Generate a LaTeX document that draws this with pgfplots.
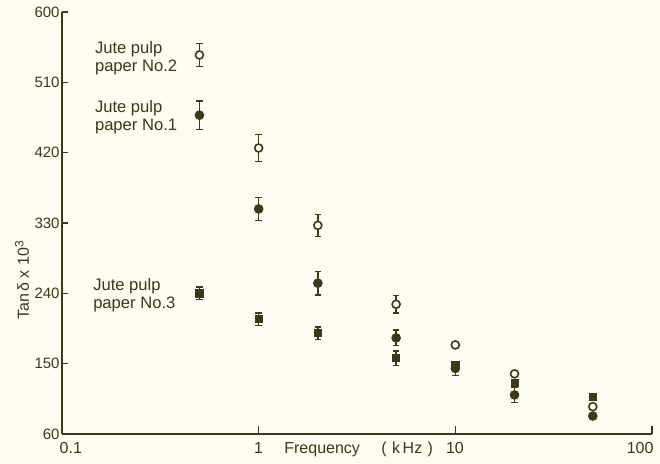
\documentclass[border=0pt]{standalone}
\usepackage{pgfplots}
\pgfplotsset{compat=1.18}
\usepackage{fontspec}
\setmainfont{Liberation Sans}
\definecolor{ink}{RGB}{62,55,26}
\definecolor{paper}{RGB}{254,252,242}
\begin{document}
\begin{tikzpicture}
\useasboundingbox[fill=paper] (-31pt,-14.5pt) rectangle (299pt,217pt);
\begin{axis}[at={(0,0)}, anchor=south west, scale only axis,
  width=295pt, height=211pt,
  xmode=log, xmin=0.1, xmax=100, ymin=60, ymax=600,
  axis x line=bottom, axis y line=left,
  axis line style={-, ink, line width=1pt},
  xtick=\empty, xminorticks=false,
  ytick={60,150,240,330,420,510,600},
  tick align=inside, major tick length=3pt,
  tick style={ink, line width=0.8pt},
  yticklabel style={font=\fontsize{7.5}{9}\selectfont, text=ink, inner sep=1pt},
  /pgf/number format/assume math mode=true,
  clip=false,
  error bars/error bar style={ink, line width=0.7pt},
  error bars/error mark options={ink, line width=0.7pt, mark size=1.6pt, rotate=90},
]
% Jute pulp paper No.2 (open circles)
\addplot[only marks, mark=*, mark size=2pt, ink, mark options={fill=paper, draw=ink, line width=0.8pt},
  error bars/.cd, y dir=both, y explicit]
  coordinates {(0.5,545) +- (0,15) (1,426) +- (0,17) (2,327) +- (0,14) (5,226) +- (0,11)};
\addplot[only marks, mark=*, mark size=2pt, mark options={fill=paper, draw=ink, line width=0.8pt}]
  coordinates {(10,174) (20,137) (50,95)};
% Jute pulp paper No.1 (filled circles)
\addplot[only marks, mark=*, mark size=2.2pt, ink, mark options={fill=ink, draw=ink},
  error bars/.cd, y dir=both, y explicit]
  coordinates {(0.5,468) +- (0,18) (1,348) +- (0,15) (2,253) +- (0,15) (5,183) +- (0,10) (10,144) +- (0,9) (20,110) +- (0,10)};
\addplot[only marks, mark=*, mark size=2.2pt, mark options={fill=ink, draw=ink}]
  coordinates {(50,83)};
% Jute pulp paper No.3 (filled squares)
\addplot[only marks, mark=square*, mark size=1.8pt, ink, mark options={fill=ink, draw=ink},
  error bars/.cd, y dir=both, y explicit]
  coordinates {(0.5,240) +- (0,8) (1,207) +- (0,8) (2,189) +- (0,8) (5,157) +- (0,9)};
\addplot[only marks, mark=square*, mark size=1.8pt, mark options={fill=ink, draw=ink}]
  coordinates {(10,148) (20,125) (50,107)};

% x ticks (pointing up)
\draw[ink, line width=0.8pt] (axis cs:1,60) -- ([yshift=4pt]axis cs:1,60);
\draw[ink, line width=0.8pt] (axis cs:10,60) -- ([yshift=4pt]axis cs:10,60);
\draw[ink, line width=0.8pt] (axis cs:100,60) -- ([yshift=4pt]axis cs:100,60);
% x tick labels
\node[text=ink, font=\fontsize{8}{9}\selectfont] at (rel axis cs:0.015,-0.033) {0.1};
\node[text=ink, font=\fontsize{8}{9}\selectfont] at (rel axis cs:0.333,-0.033) {1};
\node[text=ink, font=\fontsize{8}{9}\selectfont] at (rel axis cs:0.666,-0.033) {10};
\node[text=ink, font=\fontsize{8}{9}\selectfont] at (rel axis cs:0.980,-0.033) {100};
% axis labels
\node[text=ink, font=\fontsize{8}{9}\selectfont] at (rel axis cs:0.441,-0.036) {Frequency};
\node[text=ink, font=\fontsize{8}{9}\selectfont] at (rel axis cs:0.585,-0.036) {(\,\,k\,Hz\,\,)};
\node[text=ink, font=\fontsize{8}{9}\selectfont, rotate=90] at (rel axis cs:-0.0678,0.365) {Tan\,δ x 10\textsuperscript{3}};
% series labels
\node[anchor=west, align=left, text=ink, font=\fontsize{8.3}{9}\selectfont] at (rel axis cs:0.044,0.891) {Jute pulp\\paper No.2};
\node[anchor=west, align=left, text=ink, font=\fontsize{8.3}{9}\selectfont] at (rel axis cs:0.044,0.751) {Jute pulp\\paper No.1};
\node[anchor=west, align=left, text=ink, font=\fontsize{8.3}{9}\selectfont] at (rel axis cs:0.041,0.329) {Jute pulp\\paper No.3};
\end{axis}
\end{tikzpicture}
\end{document}
